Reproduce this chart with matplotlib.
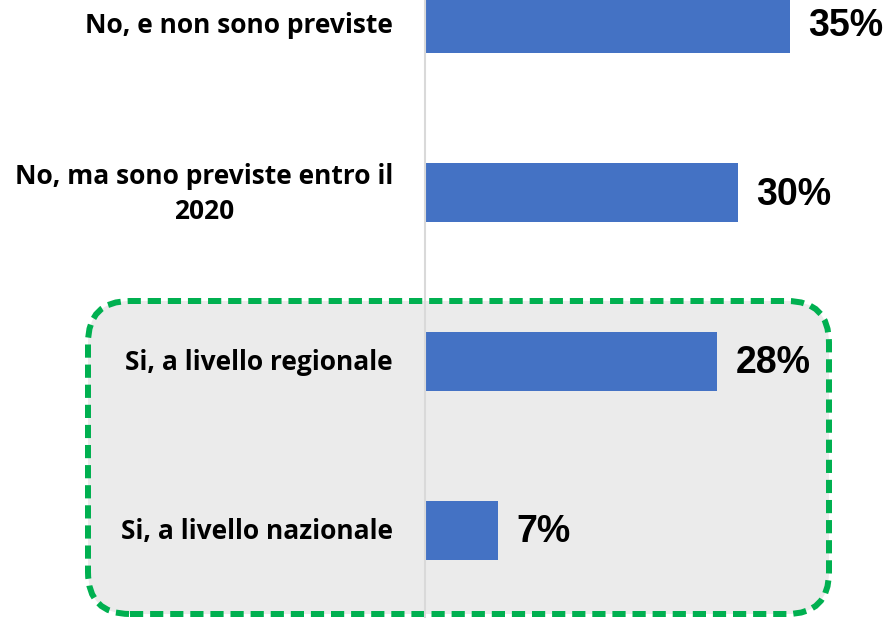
import matplotlib
matplotlib.use("Agg")
import matplotlib.pyplot as plt
from matplotlib.patches import FancyBboxPatch
from matplotlib.transforms import Affine2D

categories = [
    "No, e non sono previste",
    "No, ma sono previste entro il\n2020",
    "Si, a livello regionale",
    "Si, a livello nazionale",
]
values = [35, 30, 28, 7]
value_labels = ["35%", "30%", "28%", "7%"]

W, H = 890, 618
fig = plt.figure(figsize=(W / 100, H / 100), dpi=100)
fig.patch.set_facecolor("white")

# pixel-space transform for the highlight frame (origin bottom-left)
px = Affine2D().scale(1 / W, 1 / H) + fig.transFigure

# highlighted group frame: rounded, grey fill, dashed green border
lw_pt = 6 * 72 / 100
frame = FancyBboxPatch(
    (88, H - 614), 829 - 88, 614 - 301,
    boxstyle="round,pad=0,rounding_size=42",
    transform=px, facecolor="#ebebeb", edgecolor="#00b050",
    linewidth=lw_pt, linestyle=(0, (2.2, 1.15)), zorder=-1,
)
fig.patches.append(frame)

ax = fig.add_axes([425 / W, 0, 1 - 425 / W, 1])
ax.set_facecolor("none")
ypos = list(range(len(categories)))
ax.barh(ypos, values, height=0.35, color="#4472c4", zorder=2)

px_per_unit = 10.42
ax.set_xlim(0, (W - 425) / px_per_unit)
spacing = 168.8
c0 = 23.7
ax.set_ylim((H - c0) / spacing, -c0 / spacing)

for y, v, lab in zip(ypos, values, value_labels):
    ax.annotate(lab, (v, y), xytext=(13.5, -1.5), textcoords="offset points",
                ha="left", va="center", fontsize=27, fontweight="bold",
                family="Liberation Sans", color="black")

for y, lab in zip(ypos, categories):
    ax.annotate(lab, (0, y), xytext=(-23, -1), textcoords="offset points",
                ha="right", va="center", multialignment="center",
                fontsize=19, fontweight="bold", family="Open Sans",
                color="black", linespacing=1.38)

for s in ["top", "right", "bottom"]:
    ax.spines[s].set_visible(False)
ax.spines["left"].set_color("#d9d9d9")
ax.spines["left"].set_linewidth(1.5)
ax.spines["left"].set_zorder(3)
ax.set_xticks([])
ax.set_yticks([])

fig.savefig("out.png", dpi=100)
